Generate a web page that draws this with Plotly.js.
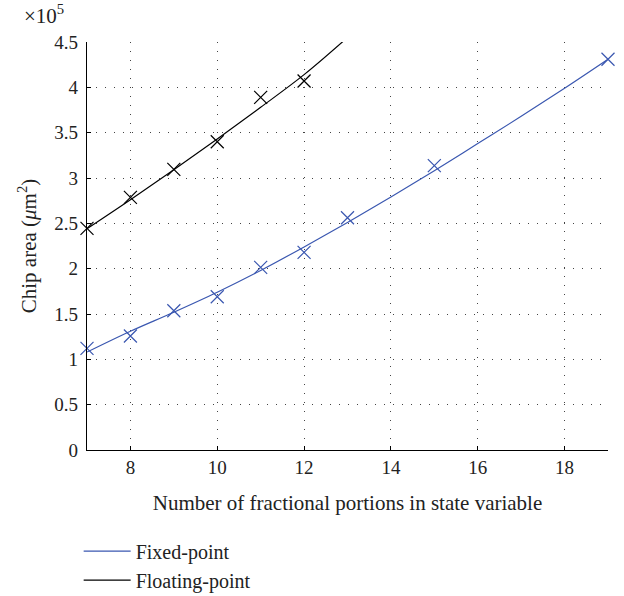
<!DOCTYPE html>
<html>
<head>
<meta charset="utf-8">
<script src="https://cdn.plot.ly/plotly-3.0.1.min.js"></script>
<style>html,body{margin:0;padding:0;background:#fff;}</style>
</head>
<body>
<div id="chart" style="width:624px;height:596px;"></div>
<script>
// Data (chip area in µm²)
const fixedX = [7, 8, 9, 10, 11, 12, 13, 15, 19];
const fixedY = [112000, 125700, 153600, 169000, 201500, 218000, 256200, 313600, 431000];
const fixedFitX = [7, 8, 9, 10, 11, 12, 13, 14, 15, 16, 17, 18, 19];
const fixedFitY = [108000, 131000, 152000, 174000, 198000, 224000, 251000, 279000, 308000, 338000, 368000, 399000, 431000];
const floatX = [7, 8, 9, 10, 11, 12];
const floatY = [244500, 278700, 309600, 340000, 389000, 407000];
const floatFitX = [7, 8, 9, 10, 11, 12, 13];
const floatFitY = [244000, 276000, 309000, 343000, 378000, 414000, 455000];
const yTickVals = [0, 50000, 100000, 150000, 200000, 250000, 300000, 350000, 400000, 450000];
const yTickText = ['0', '0.5', '1', '1.5', '2', '2.5', '3', '3.5', '4', '4.5'];
const xTickVals = [8, 10, 12, 14, 16, 18];

const blue = '#3a57b0';
const black = '#000000';
const font = "'Liberation Serif', 'DejaVu Serif', serif";

const traces = [
  {x: fixedFitX, y: fixedFitY, mode: 'lines', name: 'Fixed-point',
   line: {color: blue, width: 1.2, shape: 'spline'}},
  {x: floatFitX, y: floatFitY, mode: 'lines', name: 'Floating-point',
   line: {color: black, width: 1.2, shape: 'spline'}},
  {x: fixedX, y: fixedY, mode: 'markers', showlegend: false, cliponaxis: false,
   marker: {symbol: 'x-thin-open', size: 13, color: blue, line: {color: blue, width: 1.2}}},
  {x: floatX, y: floatY, mode: 'markers', showlegend: false, cliponaxis: false,
   marker: {symbol: 'x-thin-open', size: 13, color: black, line: {color: black, width: 1.2}}}
];

const layout = {
  width: 624, height: 596,
  margin: {l: 87, r: 16, t: 42, b: 146, autoexpand: false},
  paper_bgcolor: '#fff', plot_bgcolor: '#fff',
  font: {family: font, size: 19, color: '#222'},
  showlegend: true,
  legend: {x: -0.016, xanchor: 'left', y: -0.2, yanchor: 'top', itemwidth: 47,
           font: {family: font, size: 20, color: '#222'}, bgcolor: 'rgba(0,0,0,0)', tracegroupgap: 0},
  xaxis: {
    range: [7, 19], tickvals: xTickVals, ticks: 'inside', ticklen: 4, tickcolor: '#000',
    showline: true, linecolor: '#000', linewidth: 1.2, mirror: false,
    showgrid: true, gridcolor: '#444', gridwidth: 1, griddash: '1px,8px',
    zeroline: false, tickfont: {family: font, size: 19, color: '#222'},
    title: {text: 'Number of fractional portions in state variable', standoff: 18,
            font: {family: font, size: 21, color: '#222'}}
  },
  yaxis: {
    range: [0, 450000], tickvals: yTickVals, ticktext: yTickText, ticks: 'inside', ticklen: 4, tickcolor: '#000',
    showline: true, linecolor: '#000', linewidth: 1.2, mirror: false,
    showgrid: true, gridcolor: '#444', gridwidth: 1, griddash: '1px,8px',
    zeroline: false, tickfont: {family: font, size: 19, color: '#222'}, ticklabelstandoff: 4,
    title: {text: 'Chip area (<i>μ</i>m<sup>2</sup>)', standoff: 12,
            font: {family: font, size: 21, color: '#222'}}
  },
  annotations: [
    {xref: 'paper', yref: 'paper', x: -0.125, y: 1.0, xanchor: 'left', yanchor: 'bottom', yshift: 12,
     text: '×10<sup>5</sup>', showarrow: false, font: {family: font, size: 21, color: '#222'}}
  ]
};

Plotly.newPlot('chart', traces, layout, {displayModeBar: false, staticPlot: true});
</script>
</body>
</html>
